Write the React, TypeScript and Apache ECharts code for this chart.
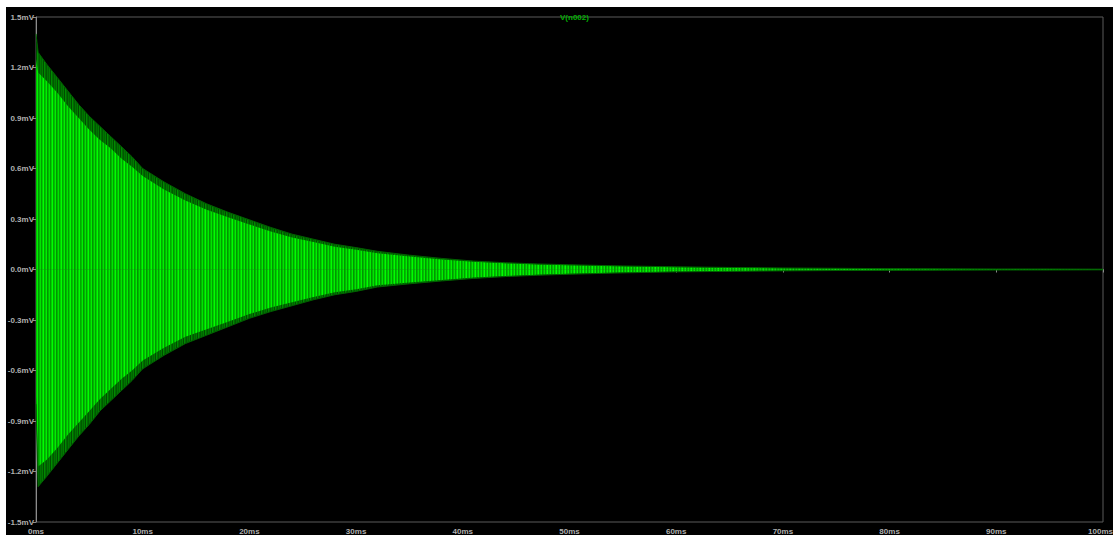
import React, { useEffect, useRef } from "react";
import * as echarts from "echarts";

// Envelope sample times (ms)
const timeMs = [0, 0.2, 1, 2, 3, 4, 5, 6, 7, 8, 9, 10, 12, 14, 16, 18, 20, 22, 24, 26, 28, 30, 32, 35, 38, 41, 44, 47, 50, 55, 60, 65, 70, 75, 80, 85, 90, 95, 100];
// Outer (peak) envelope of V(n002), mV
const upperOuter = [1.40, 1.29, 1.22, 1.14, 1.06, 0.98, 0.91, 0.85, 0.79, 0.73, 0.67, 0.60, 0.52, 0.45, 0.39, 0.34, 0.295, 0.25, 0.21, 0.18, 0.15, 0.13, 0.108, 0.085, 0.066, 0.05, 0.04, 0.033, 0.028, 0.021, 0.016, 0.012, 0.009, 0.007, 0.005, 0.004, 0.003, 0.003, 0.002];
const lowerOuter = [-0.80, -1.29, -1.23, -1.15, -1.07, -0.99, -0.92, -0.84, -0.78, -0.72, -0.66, -0.59, -0.51, -0.44, -0.39, -0.34, -0.29, -0.25, -0.215, -0.18, -0.15, -0.13, -0.104, -0.085, -0.068, -0.053, -0.042, -0.034, -0.028, -0.02, -0.014, -0.011, -0.008, -0.006, -0.005, -0.004, -0.003, -0.003, -0.002];
// Bright core of the trace (where most cycles reach), mV
const upperInner = [1.25, 1.17, 1.12, 1.05, 0.97, 0.90, 0.83, 0.77, 0.72, 0.66, 0.61, 0.555, 0.475, 0.41, 0.355, 0.31, 0.268, 0.226, 0.19, 0.163, 0.135, 0.117, 0.097, 0.077, 0.06, 0.046, 0.037, 0.03, 0.025, 0.019, 0.014, 0.011, 0.008, 0.006, 0.0045, 0.0035, 0.0028, 0.0025, 0.002];
const lowerInner = [-0.75, -1.17, -1.13, -1.06, -0.98, -0.91, -0.84, -0.77, -0.71, -0.65, -0.60, -0.54, -0.465, -0.40, -0.355, -0.31, -0.265, -0.226, -0.195, -0.163, -0.135, -0.117, -0.094, -0.077, -0.062, -0.048, -0.039, -0.031, -0.025, -0.018, -0.013, -0.01, -0.007, -0.0055, -0.0045, -0.0035, -0.0028, -0.0025, -0.002];

const xTicksMs = [0, 10, 20, 30, 40, 50, 60, 70, 80, 90, 100];
const yTicksMv = [-1.5, -1.2, -0.9, -0.6, -0.3, 0, 0.3, 0.6, 0.9, 1.2, 1.5];
const traceName = "V(n002)";

function stripes(colors: string[]) {
  const c = document.createElement("canvas");
  c.width = colors.length;
  c.height = 2;
  const ctx = c.getContext("2d")!;
  colors.forEach((col, i) => {
    ctx.fillStyle = col;
    ctx.fillRect(i, 0, 1, 2);
  });
  return { image: c, repeat: "repeat", imageWidth: colors.length, imageHeight: 2 } as any;
}

export default function App() {
  const ref = useRef<HTMLDivElement>(null);
  useEffect(() => {
    if (!ref.current) return;
    const chart = echarts.init(ref.current, undefined, { renderer: "svg" });
    const dark = stripes(["#006400", "#007c00", "#004c00", "#008a00", "#006a00", "#005800", "#007400"]);
    const bright = stripes(["#00d000", "#00ff00", "#00a800", "#00c000", "#00f000", "#009600", "#00b800", "#00e400", "#00a000"]);
    const zip = (ys: number[]) => timeMs.map((t, i) => [t, ys[i]]);
    const mk = (ys: number[], fill: any, lineColor: string, lw: number) => ({
      type: "line",
      data: zip(ys),
      symbol: "none",
      smooth: false,
      silent: true,
      lineStyle: { color: lineColor, width: lw },
      areaStyle: { color: fill, opacity: 1, origin: 0 },
    });
    const labelFont = "Liberation Sans, Arial, sans-serif";
    const xMax = xTicksMs[xTicksMs.length - 1];
    chart.setOption({
      animation: false,
      backgroundColor: "#000000",
      title: {
        text: traceName,
        left: 549,
        top: 1,
        textStyle: { color: "#00b000", fontSize: 8, fontWeight: "bold", fontFamily: labelFont },
      },
      grid: {
        left: 30,
        top: 10,
        right: 10,
        bottom: 13,
        outerBoundsMode: "none",
        containLabel: false,
        show: true,
        borderColor: "#5a5a5a",
        borderWidth: 1,
        backgroundColor: "transparent",
      },
      xAxis: {
        type: "value",
        min: xTicksMs[0],
        max: xMax,
        interval: 10,
        axisLine: { show: true, lineStyle: { color: "#8c8c8c" } },
        axisTick: { show: true, length: 3, lineStyle: { color: "#8c8c8c" } },
        splitLine: { show: false },
        axisLabel: {
          color: "#b0b0b0",
          fontSize: 8,
          fontWeight: "bold",
          fontFamily: labelFont,
          margin: 5,
          hideOverlap: false,
          formatter: (v: number) => (Math.round(v) === xMax ? `{r|${Math.round(v)}ms}` : `${Math.round(v)}ms`),
          rich: {
            r: { color: "#b0b0b0", fontSize: 8, fontWeight: "bold", fontFamily: labelFont, padding: [0, 5, 0, 0] },
          },
        },
      },
      yAxis: {
        type: "value",
        min: yTicksMv[0],
        max: yTicksMv[yTicksMv.length - 1],
        interval: 0.3,
        axisLine: { show: true, lineStyle: { color: "#8c8c8c" } },
        axisTick: { show: true, length: 3, lineStyle: { color: "#8c8c8c" } },
        splitLine: { show: false },
        axisLabel: {
          color: "#b0b0b0",
          fontSize: 8,
          fontWeight: "bold",
          fontFamily: labelFont,
          margin: 2,
          hideOverlap: false,
          formatter: (v: number) => `${(Math.abs(v) < 1e-9 ? 0 : v).toFixed(1)}mV`,
        },
      },
      series: [
        mk(upperOuter, dark, "#006000", 1),
        mk(lowerOuter, dark, "#006000", 1),
        mk(upperInner, bright, "rgba(0,0,0,0)", 0),
        mk(lowerInner, bright, "rgba(0,0,0,0)", 0),
      ],
    });
    return () => chart.dispose();
  }, []);
  return (
    <div style={{ position: "fixed", left: 0, top: 0, width: 1113, height: 535, background: "#ffffff" }}>
      <div ref={ref} style={{ position: "absolute", left: 6, top: 7, width: 1107, height: 528 }} />
    </div>
  );
}
